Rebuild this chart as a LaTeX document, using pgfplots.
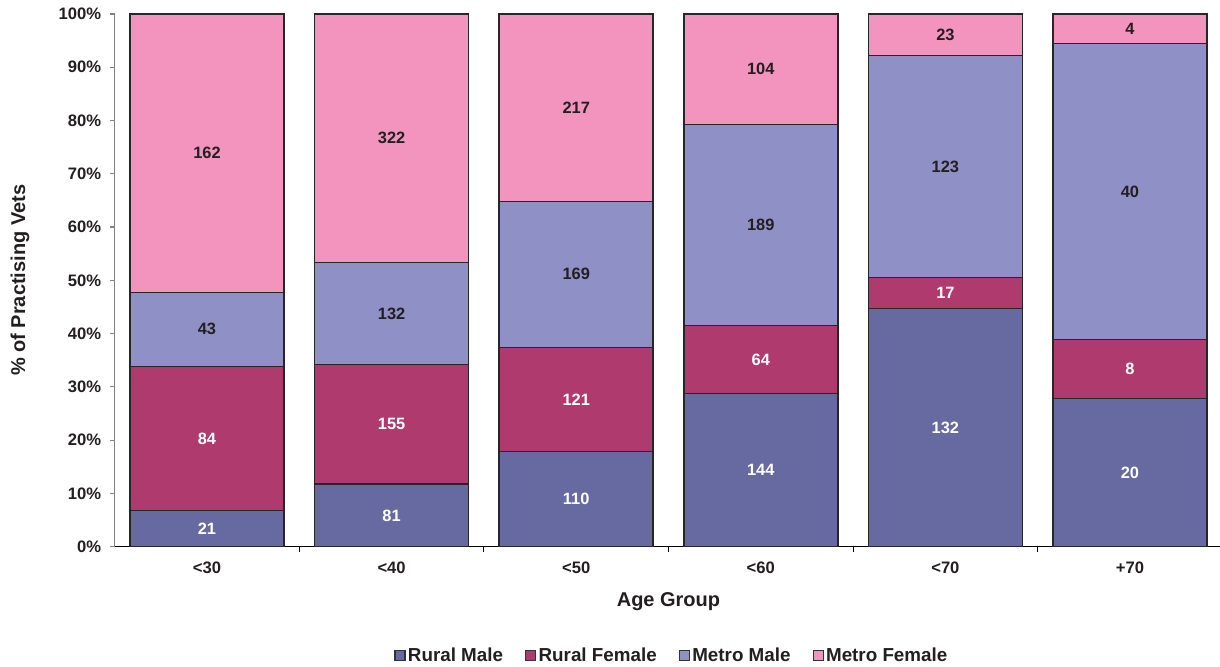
\documentclass[border=0pt]{standalone}
\usepackage{fontspec}
\setmainfont{Liberation Sans}
\usepackage{pgfplots}
\pgfplotsset{compat=1.18}
\usepackage{pgfplotstable}
\definecolor{rmc}{RGB}{102,106,160}
\definecolor{rfc}{RGB}{175,58,110}
\definecolor{mmc}{RGB}{142,144,198}
\definecolor{mfc}{RGB}{243,148,190}
\definecolor{txt}{RGB}{35,31,32}

\pgfplotstableread{
x rm rf mm mf nrm nrf nmm nmf
0 6.774 27.097 13.871 52.258 21 84 43 162
1 11.739 22.464 19.130 46.667 81 155 132 322
2 17.828 19.611 27.391 35.170 110 121 169 217
3 28.743 12.774 37.725 20.758 144 64 189 104
4 44.746 5.763 41.695 7.795 132 17 123 23
5 27.778 11.111 55.556 5.554 20 8 40 4
}\data

\begin{document}
\begin{tikzpicture}
\begin{axis}[
  at={(0,0)}, anchor=south west,
  scale only axis, width=553.8pt, height=266.35pt,
  ybar stacked, bar width=77pt,
  xmin=-0.5, xmax=5.5, ymin=0, ymax=100,
  xtick={0,...,5}, xticklabels={<30,<40,<50,<60,<70,+70},
  minor xtick={0.5,1.5,2.5,3.5,4.5},
  ytick={0,10,...,100},
  yticklabel={\pgfmathprintnumber{\tick}\%},
  /pgf/number format/assume math mode=true,
  separate axis lines,
  axis x line*=bottom, axis y line*=left,
  x axis line style={-,black,line width=0.6pt},
  y axis line style={-,black!50,line width=0.8pt},
  tick align=outside,
  major tick length=2.5pt, minor tick length=2.5pt,
  major x tick style={draw=none},
  minor x tick style={black, line width=0.5pt},
  major y tick style={black!50, line width=0.6pt},
  ticklabel style={font=\fontsize{8.3}{10}\selectfont\bfseries, text=txt},
  xticklabel style={yshift=-1.5pt},
  yticklabel style={xshift=-0.8pt},
  xlabel={Age Group}, ylabel={\% of Practising Vets},
  label style={font=\fontsize{10}{12}\selectfont\bfseries, text=txt},
  xlabel style={at={(axis description cs:0.5,-0.1036)}, anchor=center},
  ylabel style={at={(axis description cs:-0.0855,0.5)}, anchor=center},
  nodes near coords,
  point meta=explicit symbolic,
  nodes near coords style={anchor=center, font=\fontsize{8.2}{10}\selectfont\bfseries},
  legend columns=4,
  legend style={draw=none, at={(axis description cs:0.5032,-0.2046)}, anchor=center,
    font=\fontsize{9.4}{11}\selectfont\bfseries, text=txt,
    nodes={inner xsep=1.2pt, inner ysep=1pt},
    /tikz/every even column/.append style={column sep=9.8pt}},
  legend image code/.code={\draw[#1,draw=black!80,line width=0.6pt] (0pt,-2.5pt) rectangle (5pt,2.5pt);},
]
\addplot[fill=rmc, draw=black!85, line width=0.75pt,
  every node near coord/.append style={text=white}]
  table[x=x,y=rm,meta=nrm]{\data};
\addplot[fill=rfc, draw=black!85, line width=0.75pt,
  every node near coord/.append style={text=white}]
  table[x=x,y=rf,meta=nrf]{\data};
\addplot[fill=mmc, draw=black!85, line width=0.75pt,
  every node near coord/.append style={text=txt}]
  table[x=x,y=mm,meta=nmm]{\data};
\addplot[fill=mfc, draw=black!85, line width=0.75pt,
  every node near coord/.append style={text=txt}]
  table[x=x,y=mf,meta=nmf]{\data};
\legend{Rural Male, Rural Female, Metro Male, Metro Female}
\end{axis}
\pgfresetboundingbox
\path (-57.35pt,-60.15pt) rectangle (552.65pt,273.35pt);
\end{tikzpicture}
\end{document}
